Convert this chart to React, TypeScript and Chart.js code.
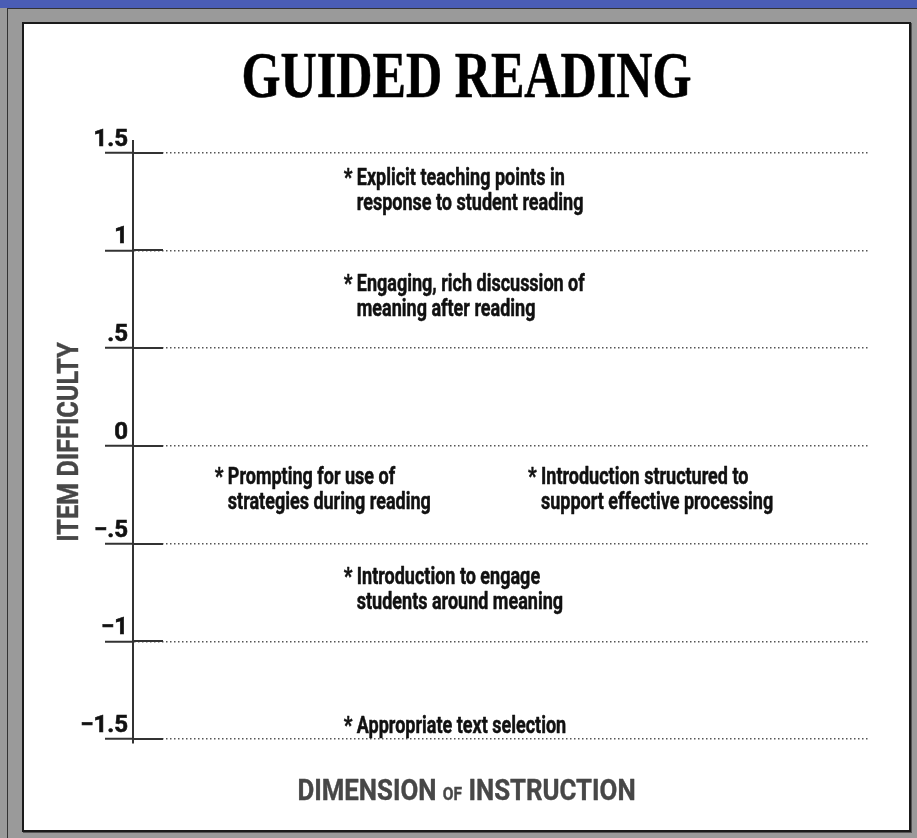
import { useEffect, useRef } from "react";
import { Chart, registerables } from "chart.js";

Chart.register(...registerables);

// ---- data ----
const chartTitle = "GUIDED READING";
const yAxisTitle = "ITEM DIFFICULTY";
const xAxisTitleParts = ["DIMENSION", "OF", "INSTRUCTION"];

const yTickValues = [-1.5, -1, -0.5, 0, 0.5, 1, 1.5];
const yTickLabels = ["\u22121.5", "\u22121", "\u2212.5", "0", ".5", "1", "1.5"];

const itemLines: string[][] = [
  ["Explicit teaching points in", "response to student reading"],
  ["Engaging, rich discussion of", "meaning after reading"],
  ["Prompting for use of", "strategies during reading"],
  ["Introduction structured to", "support effective processing"],
  ["Introduction to engage", "students around meaning"],
  ["Appropriate text selection"],
];
const itemDimension = [28.6, 28.6, 11.1, 53.6, 28.6, 28.6];
const itemDifficulty = [1.378, 0.838, -0.153, -0.153, -0.665, -1.424];

// ---- styling ----
const SANS = "Roboto, 'Noto Sans', sans-serif";
const SERIF = "'Liberation Serif', 'DejaVu Serif', serif";
const INK = "#111111";
const AXIS_INK = "#474747";

function drawCondensed(
  ctx: CanvasRenderingContext2D,
  text: string,
  x: number,
  y: number,
  font: string,
  sx: number,
  align: CanvasTextAlign,
  color: string,
  rotate = 0,
  stroke = 0
) {
  ctx.save();
  ctx.font = font;
  ctx.fillStyle = color;
  ctx.textAlign = align;
  ctx.textBaseline = "alphabetic";
  ctx.translate(x, y);
  if (rotate) ctx.rotate(rotate);
  ctx.scale(sx, 1);
  ctx.fillText(text, 0, 0);
  if (stroke > 0) {
    ctx.strokeStyle = color;
    ctx.lineWidth = stroke;
    ctx.lineJoin = "round";
    ctx.strokeText(text, 0, 0);
  }
  ctx.restore();
}

const decorPlugin = {
  id: "decor",
  beforeDatasetsDraw(chart: any) {
    const { ctx, chartArea, scales } = chart;
    const y = scales.y;
    ctx.save();
    ctx.strokeStyle = "#333333";
    ctx.lineWidth = 2;
    y.ticks.forEach((t: any) => {
      const py = Math.round(y.getPixelForValue(t.value));
      ctx.beginPath();
      ctx.moveTo(chartArea.left, py);
      ctx.lineTo(chartArea.left + 30, py);
      ctx.stroke();
    });
    ctx.restore();
  },
  afterDatasetsDraw(chart: any) {
    const { ctx, chartArea, width } = chart;
    const cx = width / 2;

    // title
    drawCondensed(ctx, chartTitle, cx, 73, `bold 66px ${SERIF}`, 0.76, "center", "#000000", 0, 0.6);

    // y axis title (rotated)
    const midY = (chartArea.top + chartArea.bottom) / 2;
    drawCondensed(ctx, yAxisTitle, 54, midY, `bold 29px ${SANS}`, 0.87, "center", AXIS_INK, -Math.PI / 2, 0.4);

    // x axis title with small "OF"
    const big = `bold 30px ${SANS}`;
    const small = `bold 18px ${SANS}`;
    const sx = 0.86;
    ctx.save();
    ctx.font = big;
    const w1 = ctx.measureText(xAxisTitleParts[0] + " ").width;
    const w3 = ctx.measureText(" " + xAxisTitleParts[2]).width;
    ctx.font = small;
    const w2 = ctx.measureText(xAxisTitleParts[1]).width;
    ctx.restore();
    const total = (w1 + w2 + w3) * sx;
    let xx = cx - total / 2;
    const by = 776;
    drawCondensed(ctx, xAxisTitleParts[0] + " ", xx, by, big, sx, "left", AXIS_INK, 0, 0.4);
    xx += w1 * sx;
    drawCondensed(ctx, xAxisTitleParts[1], xx, by, small, sx, "left", AXIS_INK, 0, 0.4);
    xx += w2 * sx;
    drawCondensed(ctx, " " + xAxisTitleParts[2], xx, by, big, sx, "left", AXIS_INK, 0, 0.4);

    // item labels
    const meta = chart.getDatasetMeta(0);
    const itemFont = `bold 24px ${SANS}`;
    meta.data.forEach((pt: any, i: number) => {
      const px = pt.x;
      const base = pt.y + 8.5;
      drawCondensed(ctx, "*", px, base, itemFont, 0.8, "left", INK, 0, 0.5);
      itemLines[i].forEach((line, k) => {
        drawCondensed(ctx, line, px + 13, base + k * 25, itemFont, 0.75, "left", INK, 0, 0.5);
      });
    });
  },
};

export default function App() {
  const canvasRef = useRef<HTMLCanvasElement | null>(null);

  useEffect(() => {
    const canvas = canvasRef.current;
    if (!canvas) return;
    const chart = new Chart(canvas, {
      type: "scatter",
      data: {
        datasets: [
          {
            label: "Items",
            data: itemDimension.map((x, i) => ({ x, y: itemDifficulty[i] })),
            pointRadius: 0,
            pointHoverRadius: 0,
            showLine: false,
          },
        ],
      },
      options: {
        responsive: false,
        animation: false,
        devicePixelRatio: 1,
        events: [],
        layout: { padding: { left: 0, top: 117, right: 39, bottom: 87 } },
        plugins: {
          legend: { display: false },
          tooltip: { enabled: false },
          title: { display: false },
        },
        scales: {
          x: { type: "linear", min: 0, max: 100, display: false },
          y: {
            type: "linear",
            position: "left",
            min: -1.52,
            max: 1.56,
            afterBuildTicks: (scale: any) => {
              scale.ticks = yTickValues.map((v) => ({ value: v }));
            },
            afterFit: (scale: any) => {
              scale.width = 109;
            },
            ticks: {
              padding: -23,
              labelOffset: -13,
              color: INK,
              textStrokeColor: INK,
              textStrokeWidth: 0.6,
              font: { family: SANS, size: 24, weight: "bold" },
              callback: (v: any) => {
                const idx = yTickValues.indexOf(Number(v));
                return idx >= 0 ? yTickLabels[idx] : "";
              },
            },
            grid: {
              color: "#555555",
              lineWidth: 1.5,
              drawTicks: true,
              tickLength: 28,
              tickColor: "#333333",
              tickWidth: 2,
            },
            border: { display: true, color: "#333333", width: 2, dash: [1.5, 2.5] },
          },
        },
      },
      plugins: [decorPlugin],
    } as any);
    return () => chart.destroy();
  }, []);

  return (
    <div
      style={{
        position: "absolute",
        left: 0,
        top: 0,
        width: 917,
        height: 838,
        background: "#9a9a9a",
        overflow: "hidden",
      }}
    >
      <div style={{ position: "absolute", left: 0, top: 0, width: 917, height: 8, background: "#4a5db5" }} />
      <div style={{ position: "absolute", left: 7, top: 8, right: 0, height: 1, background: "#333" }} />
      <div style={{ position: "absolute", left: 7, top: 8, width: 1, bottom: 0, background: "#333" }} />
      <div
        style={{
          position: "absolute",
          left: 22,
          top: 22,
          width: 889,
          height: 810,
          boxSizing: "border-box",
          border: "2px solid #1a1a1a",
          background: "#ffffff",
          boxShadow: "1px 1px 0 #555",
        }}
      >
        <canvas ref={canvasRef} width={885} height={806} style={{ display: "block", width: 885, height: 806 }} />
      </div>
    </div>
  );
}
